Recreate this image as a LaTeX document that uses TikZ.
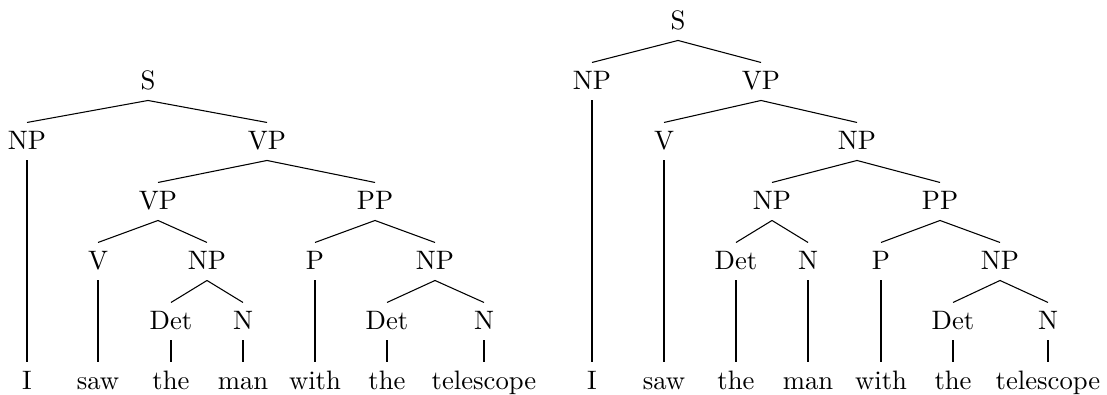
\documentclass[tikz,border=0pt]{standalone}
\begin{document}
\begin{tikzpicture}[x=0.375pt,y=-0.375pt,
  lab/.style={anchor=base,inner xsep=0pt,inner ysep=4.1pt,text height=5.65pt,text depth=0pt},
  edge/.style={line width=0.4pt}]
\useasboundingbox (0,0) rectangle (1107,394);
% ---------- left tree ----------
\node[lab] (lS) at (148,89) {S};
\node[lab] (lNP) at (27,149) {NP};
\node[lab] (lVP) at (267,149) {VP};
\node[lab] (lVPb) at (158,209) {VP};
\node[lab] (lPP) at (375,209) {PP};
\node[lab] (lV) at (98,269) {V};
\node[lab] (lNPa) at (207,269) {NP};
\node[lab] (lP) at (315,269) {P};
\node[lab] (lNPb) at (435,269) {NP};
\node[lab] (lDeta) at (171,329) {Det};
\node[lab] (lNa) at (243,329) {N};
\node[lab] (lDetb) at (387,329) {Det};
\node[lab] (lNb) at (484,329) {N};
\node[lab] (lw1) at (27,389) {I};
\node[lab] (lw2) at (98,389) {saw};
\node[lab] (lw3) at (171,389) {the};
\node[lab] (lw4) at (243,389) {man};
\node[lab] (lw5) at (315,389) {with};
\node[lab] (lw6) at (387,389) {the};
\node[lab] (lw7) at (484,389) {telescope};
\draw[edge] (lS.south) -- (lNP.north);
\draw[edge] (lS.south) -- (lVP.north);
\draw[edge] (lVP.south) -- (lVPb.north);
\draw[edge] (lVP.south) -- (lPP.north);
\draw[edge] (lVPb.south) -- (lV.north);
\draw[edge] (lVPb.south) -- (lNPa.north);
\draw[edge] (lPP.south) -- (lP.north);
\draw[edge] (lPP.south) -- (lNPb.north);
\draw[edge] (lNPa.south) -- (lDeta.north);
\draw[edge] (lNPa.south) -- (lNa.north);
\draw[edge] (lNPb.south) -- (lDetb.north);
\draw[edge] (lNPb.south) -- (lNb.north);
\draw[edge] (lNP.south) -- (lw1.north);
\draw[edge] (lV.south) -- (lw2.north);
\draw[edge] (lDeta.south) -- (lw3.north);
\draw[edge] (lNa.south) -- (lw4.north);
\draw[edge] (lP.south) -- (lw5.north);
\draw[edge] (lDetb.south) -- (lw6.north);
\draw[edge] (lNb.south) -- (lw7.north);
% ---------- right tree ----------
\node[lab] (rS) at (678,29) {S};
\node[lab] (rNP) at (592,89) {NP};
\node[lab] (rVP) at (761,89) {VP};
\node[lab] (rV) at (664,149) {V};
\node[lab] (rNPa) at (857,149) {NP};
\node[lab] (rNPb) at (772,209) {NP};
\node[lab] (rPP) at (940,209) {PP};
\node[lab] (rDeta) at (736,269) {Det};
\node[lab] (rNa) at (808,269) {N};
\node[lab] (rP) at (881,269) {P};
\node[lab] (rNPc) at (1000,269) {NP};
\node[lab] (rDetb) at (953,329) {Det};
\node[lab] (rNb) at (1048,329) {N};
\node[lab] (rw1) at (592,389) {I};
\node[lab] (rw2) at (664,389) {saw};
\node[lab] (rw3) at (736,389) {the};
\node[lab] (rw4) at (808,389) {man};
\node[lab] (rw5) at (881,389) {with};
\node[lab] (rw6) at (953,389) {the};
\node[lab] (rw7) at (1048,389) {telescope};
\draw[edge] (rS.south) -- (rNP.north);
\draw[edge] (rS.south) -- (rVP.north);
\draw[edge] (rVP.south) -- (rV.north);
\draw[edge] (rVP.south) -- (rNPa.north);
\draw[edge] (rNPa.south) -- (rNPb.north);
\draw[edge] (rNPa.south) -- (rPP.north);
\draw[edge] (rNPb.south) -- (rDeta.north);
\draw[edge] (rNPb.south) -- (rNa.north);
\draw[edge] (rPP.south) -- (rP.north);
\draw[edge] (rPP.south) -- (rNPc.north);
\draw[edge] (rNPc.south) -- (rDetb.north);
\draw[edge] (rNPc.south) -- (rNb.north);
\draw[edge] (rNP.south) -- (rw1.north);
\draw[edge] (rV.south) -- (rw2.north);
\draw[edge] (rDeta.south) -- (rw3.north);
\draw[edge] (rNa.south) -- (rw4.north);
\draw[edge] (rP.south) -- (rw5.north);
\draw[edge] (rDetb.south) -- (rw6.north);
\draw[edge] (rNb.south) -- (rw7.north);
\end{tikzpicture}
\end{document}
